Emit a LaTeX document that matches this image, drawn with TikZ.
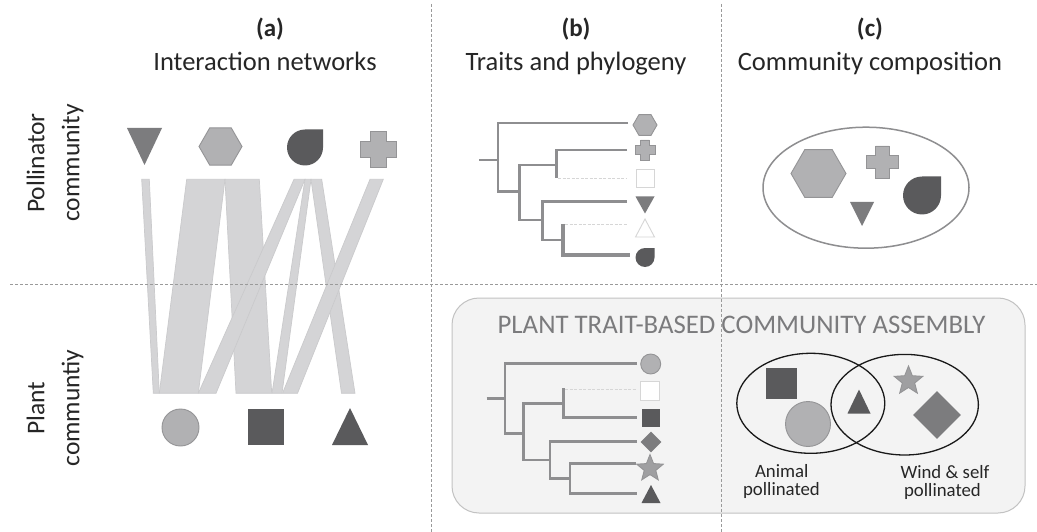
\documentclass[tikz,border=0pt]{standalone}
\usepackage{fontspec}
\setmainfont{Carlito}
\usetikzlibrary{shapes.geometric}
\definecolor{lgray}{HTML}{B1B1B3}
\definecolor{lgrayd}{HTML}{949496}
\definecolor{mgray}{HTML}{7C7C7E}
\definecolor{dgray}{HTML}{5A5A5C}
\definecolor{bandc}{HTML}{D4D4D6}
\definecolor{bandd}{HTML}{CACACC}
\definecolor{treec}{HTML}{8E8E90}
\definecolor{faint}{HTML}{D6D6D6}
\definecolor{txt}{HTML}{262626}
\definecolor{boxfill}{HTML}{F3F3F3}
\definecolor{boxdraw}{HTML}{C2C2C2}
\definecolor{sepc}{HTML}{9A9A9A}
\definecolor{titlec}{HTML}{7B7B7D}
\tikzset{
  pics/drop/.style={code={\path[pic actions] (0,-#1) -- (#1,-#1) -- (#1,0) arc[start angle=0,end angle=270,radius=#1] -- cycle;}},
  pics/crossx/.style={code={\pgfmathsetmacro\ca{0.43*#1}
    \path[pic actions] (-\ca,-#1) -- (\ca,-#1) -- (\ca,-\ca) -- (#1,-\ca) -- (#1,\ca) -- (\ca,\ca) -- (\ca,#1) -- (-\ca,#1) -- (-\ca,\ca) -- (-#1,\ca) -- (-#1,-\ca) -- (-\ca,-\ca) -- cycle;}},
  pics/uptri/.style 2 args={code={\path[pic actions] (-#1/2,#2/2) -- (#1/2,#2/2) -- (0,-#2/2) -- cycle;}},
  pics/dntri/.style 2 args={code={\path[pic actions] (-#1/2,-#2/2) -- (#1/2,-#2/2) -- (0,#2/2) -- cycle;}},
  lightshape/.style={fill=lgray,draw=lgrayd,line width=0.9pt},
  darkshape/.style={fill=dgray,draw=none},
  midshape/.style={fill=mgray,draw=none},
  faintshape/.style={fill=white,draw=faint,line width=0.9pt},
  band/.style={fill=bandc,draw=bandd,line width=0.7pt},
  tree/.style={draw=treec,line width=2.8pt},
  thicktree/.style={draw=treec,line width=4pt},
  faintbranch/.style={draw=faint,line width=1pt,dash pattern=on 3pt off 1.5pt},
  sep/.style={draw=sepc,line width=0.7pt,dash pattern=on 3pt off 2pt},
  head/.style={text=txt,font=\fontsize{25}{30}\selectfont\bfseries,anchor=base},
  sub/.style={text=txt,font=\fontsize{26.5}{30}\selectfont,anchor=base},
  side/.style={text=txt,font=\fontsize{25.5}{35}\selectfont,rotate=90,align=center},
  small/.style={text=txt,font=\fontsize{18.8}{22}\selectfont,anchor=base},
}
\begin{document}
\begin{tikzpicture}[x=1pt,y=-1pt]
\useasboundingbox (0,0) rectangle (1037,532);
\fill[white] (0,0) rectangle (1037,532);

% headings
\node[head] (ha) at (270,37) {(a)};
\node[sub] (sa) at (265,71) {Interaction networks};
\node[head] (hb) at (576,37) {(b)};
\node[sub] (sb) at (576,71) {Traits and phylogeny};
\node[head] (hc) at (870,37) {(c)};
\node[sub] (sc) at (870,71) {Community composition};

\node[side] (lp) at (55,163) {Pollinator\\community};
\node[side] (lq) at (55,408) {Plant\\communtiy};

% rounded box
\draw[fill=boxfill,draw=boxdraw,line width=1pt,rounded corners=27pt] (452,298) rectangle (1025,513);
\node[text=titlec,font=\fontsize{26.8}{30}\selectfont,anchor=base] (title) at (741.5,333) {PLANT TRAIT-BASED COMMUNITY ASSEMBLY};

% interaction bands
\path[band] (141.7,179.3) -- (149.3,179.3) -- (159.3,393.3) -- (153.3,393.3) -- cycle;
\path[band] (186.7,179.3) -- (225,179.3) -- (198.3,393.3) -- (159.3,393.3) -- cycle;
\path[band] (225,179.3) -- (259.3,179.3) -- (271.7,393.3) -- (236,393.3) -- cycle;
\path[band] (294,179.3) -- (305,179.3) -- (216,393.3) -- (198.3,393.3) -- cycle;
\path[band] (305,179.3) -- (311,179.3) -- (282,393.3) -- (272,393.3) -- cycle;
\path[band] (311,179.3) -- (321.7,179.3) -- (355,393.3) -- (341.5,393.3) -- cycle;
\path[band] (370,179.3) -- (383.3,179.3) -- (297.5,393.3) -- (282.5,393.3) -- cycle;

% separators
\draw[sep] (10,284) -- (1037,284);
\draw[sep] (431,4) -- (431,532);
\draw[sep] (721,4) -- (721,532);

% pollinators (a)
\pic[midshape] (pa1) at (144.5,146.5) {dntri={35}{37}};
\node[lightshape,regular polygon,regular polygon sides=6,minimum size=43pt,inner sep=0pt] (pa2) at (220.5,146.5) {};
\pic[darkshape] (pa3) at (305,147.5) {drop=18};
\pic[lightshape] (pa4) at (378.5,149.5) {crossx=18};

% plants (a)
\node[lightshape,circle,minimum size=37pt,inner sep=0pt] (pl1) at (180.5,427.5) {};
\node[darkshape,rectangle,minimum size=36pt,inner sep=0pt] (pl2) at (266,427) {};
\pic[darkshape] (pl3) at (350,426.5) {uptri={36}{37}};

% tree (b) pollinators
\draw[tree] (479,160) -- (498,160);
\draw[tree] (628,123) -- (498,123) -- (498,191.7) -- (519.3,191.7);
\draw[tree] (556.7,165) -- (519.3,165) -- (519.3,220) -- (542.7,220);
\draw[tree] (627,150) -- (556.7,150) -- (556.7,178.3);
\draw[faintbranch] (558,178.3) -- (627,178.3);
\draw[tree] (627,201.7) -- (542.7,201.7) -- (542.7,240) -- (563.3,240);
\draw[faintbranch] (565,225) -- (627,225);
\draw[thicktree] (563.3,224) -- (563.3,255) -- (630,255);

\node[lightshape,regular polygon,regular polygon sides=6,minimum size=24pt,inner sep=0pt] (tb1) at (645,125) {};
\pic[lightshape] (tb2) at (645,150) {crossx=10};
\node[faintshape,rectangle,minimum size=18pt,inner sep=0pt] (tb3) at (645,178) {};
\pic[midshape] (tb4) at (645,205) {dntri={19}{17}};
\pic[faintshape] (tb5) at (645,228) {uptri={19}{18}};
\pic[darkshape] (tb6) at (645,257.5) {drop=9.5};

% community composition (c)
\draw[draw=treec,line width=1.5pt] (866,187.7) ellipse [x radius=103, y radius=60.5];
\node[lightshape,regular polygon,regular polygon sides=6,minimum size=55pt,inner sep=0pt] (cc1) at (818.5,173.5) {};
\pic[lightshape] (cc2) at (882.5,162) {crossx=16};
\pic[darkshape] (cc3) at (922,195.5) {drop=19};
\pic[midshape] (cc4) at (862,214) {dntri={24}{24}};

% plant tree (bottom)
\draw[tree] (486.7,398.3) -- (505,398.3);
\draw[tree] (637,363.3) -- (505,363.3) -- (505,433.3) -- (523.3,433.3);
\draw[tree] (563.3,403.3) -- (523.3,403.3) -- (523.3,460) -- (550,460);
\draw[faintbranch] (565,389.3) -- (637,389.3);
\draw[tree] (563.3,388) -- (563.3,417.3) -- (637,417.3);
\draw[tree] (637,441.7) -- (550,441.7) -- (550,478.3) -- (570,478.3);
\draw[tree] (636,463.3) -- (570,463.3) -- (570,493.3) -- (637,493.3);

\node[lightshape,circle,minimum size=20pt,inner sep=0pt] (tp1) at (650.7,364) {};
\node[faintshape,rectangle,minimum size=18.5pt,inner sep=0pt] (tp2) at (650,391) {};
\node[darkshape,rectangle,minimum size=18pt,inner sep=0pt] (tp3) at (650.8,418) {};
\node[midshape,diamond,minimum width=21pt,minimum height=21pt,inner sep=0pt] (tp4) at (651,442) {};
\node[fill=lgray!90!black,draw=lgrayd,line width=0.9pt,star,star points=5,star point ratio=2.3,minimum size=28pt,inner sep=0pt] (tp5) at (650,468.5) {};
\pic[darkshape] (tp6) at (651,494) {uptri={19}{18}};

% Venn
\draw[draw=black!90,line width=1.3pt] (810.8,403.3) ellipse [x radius=74, y radius=50];
\draw[draw=black!90,line width=1.3pt] (904.7,404.7) ellipse [x radius=73.7, y radius=50.3];
\node[darkshape,rectangle,minimum size=31pt,inner sep=0pt] (v1) at (781.8,383.8) {};
\node[lightshape,circle,minimum size=45pt,inner sep=0pt] (v2) at (808,424) {};
\pic[darkshape] (v3) at (859,401.5) {uptri={23}{24}};
\node[fill=lgray!90!black,draw=lgrayd,line width=0.9pt,star,star points=5,star point ratio=2.3,minimum size=30pt,inner sep=0pt] (v4) at (908.5,381) {};
\node[midshape,diamond,minimum width=48pt,minimum height=48pt,inner sep=0pt] (v5) at (937,415) {};

\node[small] (an1) at (781.8,477) {Animal};
\node[small] (an2) at (781.5,495) {pollinated};
\node[small] (wi1) at (945,478) {Wind \& self};
\node[small] (wi2) at (942.5,496) {pollinated};
\end{tikzpicture}
\end{document}
